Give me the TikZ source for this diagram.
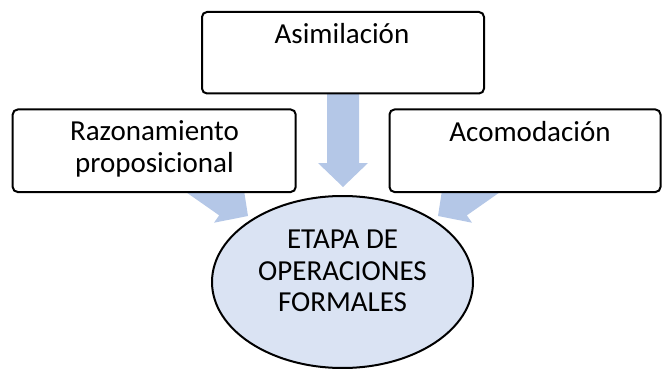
\documentclass[tikz,border=0pt]{standalone}
\usepackage{fontspec}
\setmainfont{Carlito}
\usetikzlibrary{shapes.geometric}
\definecolor{arrowblue}{HTML}{B4C7E7}
\definecolor{ellblue}{HTML}{DAE3F3}
\newcommand\myblockarrow[3]{%
  \fill[arrowblue, shift={(#1)}, rotate=#2] (0,0) -- (-24,25) -- (-24,16) -- (-#3,16) -- (-#3,-16) -- (-24,-16) -- (-24,-25) -- cycle;}
\begin{document}
\begin{tikzpicture}[x=1pt,y=-1pt,
  boxshape/.style={draw=black, line width=2pt, rounded corners=5pt, fill=white, inner sep=0pt},
  txt/.style={inner sep=0pt, anchor=base, align=center, font=\fontsize{29}{31.7}\selectfont}]
\useasboundingbox (0,0) rectangle (662,369);
% arrow tips
\coordinate (ctip) at (343,187);
\coordinate (ltip) at (248,216);
\coordinate (rtip) at (438,216);
\myblockarrow{ctip}{-90}{93}
\myblockarrow{ltip}{-35}{93}
\myblockarrow{rtip}{-145}{93}
% boxes
\node[boxshape, minimum width=282pt, minimum height=81.5pt] (top) at (343,52.75) {};
\node[boxshape, minimum width=283pt, minimum height=82.5pt] (left) at (154.2,150.75) {};
\node[boxshape, minimum width=271pt, minimum height=82.5pt] (right) at (525,150.75) {};
\node[draw=black, line width=2pt, fill=ellblue, ellipse, minimum width=261pt, minimum height=172pt, inner sep=0pt] (ell) at (342.5,282) {};
% texts (base anchor = baseline of last line)
\node[txt] (asim) at (342,43.5) {Asimilación};
\node[txt] (razt) at (154.5,172) {Razonamiento\\proposicional};
\node[txt] (acot) at (530,141.7) {Acomodación};
\node[txt] (etapa) at (342.5,311.7) {ETAPA DE\\OPERACIONES\\FORMALES};
\end{tikzpicture}
\end{document}
